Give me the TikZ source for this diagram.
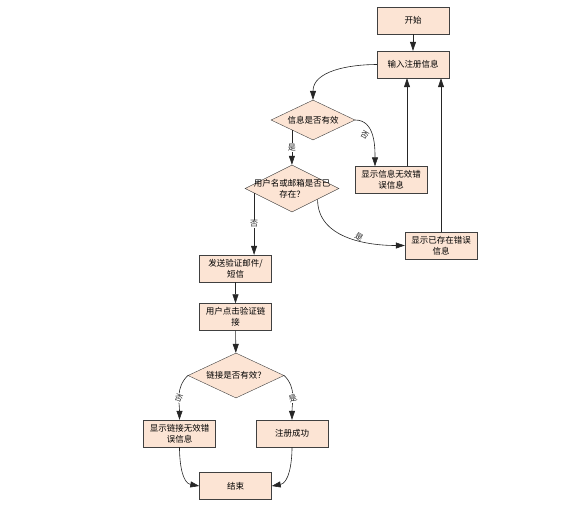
\documentclass[tikz,border=0pt]{standalone}
\usepackage{fontspec}
\newfontfamily\cjk{Noto Sans CJK SC}
\usetikzlibrary{shapes.geometric,arrows.meta}
\definecolor{peach}{RGB}{252,228,212}
\tikzset{
    box/.style={draw=black!75, fill=peach, minimum width=72pt, minimum height=27pt,
        inner sep=1pt, align=center, font=\cjk\fontsize{8.5}{11}\selectfont},
    decision/.style={draw=black!75, fill=peach, diamond, inner sep=0pt},
    dtext/.style={align=center, inner sep=0pt, font=\cjk\fontsize{8.5}{11}\selectfont},
    lbl/.style={fill=white, inner sep=1pt, font=\cjk\fontsize{8}{9}\selectfont},
    arr/.style={-{Triangle[length=9pt,width=6pt]}, black!85, line width=0.6pt}
}

\begin{document}
\begin{tikzpicture}[x=1pt, y=-1pt]
    \useasboundingbox (0,0) rectangle (588,507);

    % registration steps
    \node[box] (start) at (413,20.5) {开始};
    \node[box] (input) at (413,64.5) {输入注册信息};
    \node[decision, minimum width=84pt, minimum height=40pt] (valid) at (313,120) {};
    \node[dtext] (validtxt) at (valid) {信息是否有效};
    \node[box] (errinfo) at (391,180) {显示信息无效错\\误信息};
    \node[decision, minimum width=94pt, minimum height=47pt] (exists) at (292,188.5) {};
    \node[dtext] (existstxt) at (exists) {用户名或邮箱是否已\\存在？};
    \node[box] (errexists) at (441,245.5) {显示已存在错误\\信息};

    % verification
    \node[box] (send) at (235.5,268.5) {发送验证邮件/\\短信};
    \node[box] (click) at (235.5,317) {用户点击验证链\\接};
    \node[decision, minimum width=96pt, minimum height=45pt] (link) at (236,375.5) {};
    \node[dtext] (linktxt) at (link) {链接是否有效？};
    \node[box] (errlink) at (179.5,433.5) {显示链接无效错\\误信息};
    \node[box] (ok) at (292,433.5) {注册成功};
    \node[box] (end) at (235.5,486) {结束};

    % Connections
    \draw[arr] (start) -- (input);
    \draw[arr] (input.west) to[out=180,in=90] (valid.north);
    \draw[arr] (valid.east) to[out=0,in=90]
        node[lbl, fill=none, pos=0.45, below left, rotate=-30] {否} ([xshift=-16pt]errinfo.north);
    \draw[arr] ([xshift=16pt]errinfo.north) -- ([xshift=16pt]errinfo.north |- input.south);
    \draw[arr] (valid.south west) -- (valid.south west |- exists.north) node[lbl, midway] {是};
    \draw[arr] (exists.337) to[out=-90,in=180]
        node[lbl, fill=none, pos=0.55, above right, rotate=-30] {是} (errexists.west);
    \draw[arr] (errexists.north) -- (errexists.north |- input.south);
    \draw[arr] (exists.187) -- (exists.187 |- send.north) node[lbl, midway] {否};
    \draw[arr] (send) -- (click);
    \draw[arr] (click) -- (link);
    \draw[arr] (link.west) to[out=225,in=90] node[lbl, pos=0.55, rotate=-20] {否} (errlink.north);
    \draw[arr] (link.east) to[out=-45,in=90] node[lbl, pos=0.55, rotate=20] {是} (ok.north);
    \draw[arr] (errlink.south) to[out=-90,in=170] (end.west);
    \draw[arr] (ok.south) to[out=-90,in=10] (end.east);
\end{tikzpicture}
\end{document}
